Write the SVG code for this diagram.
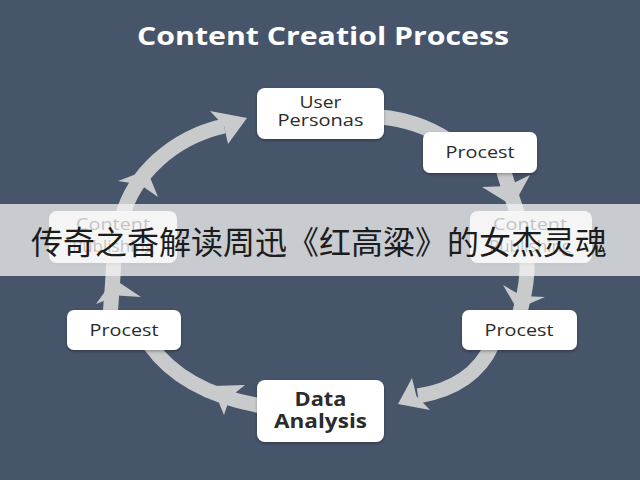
<svg xmlns="http://www.w3.org/2000/svg" width="640" height="480" viewBox="0 0 640 480">
  <defs>
    <filter id="sh" x="-10%" y="-10%" width="120%" height="130%">
      <feDropShadow dx="0" dy="1.5" stdDeviation="1.5" flood-color="#000" flood-opacity="0.3"/>
    </filter>
    <style>
      .band { fill: none; stroke: #c9cacc; stroke-width: 15; stroke-linecap: butt; }
      .head { fill: #c9cacc; }
      .box { fill: #ffffff; filter: url(#sh); }
      .lbl { font-family: "Open Sans", "Liberation Sans", sans-serif; font-size: 17px; fill: #2b2b2b; text-anchor: middle; }
      .bold { font-weight: bold; font-size: 19px; }
      .title { font-family: "Open Sans", "Liberation Sans", sans-serif; font-size: 25px; font-weight: bold; fill: #ffffff; text-anchor: middle; }
      .cjk { font-family: "Noto Sans CJK SC", "Noto Sans", sans-serif; font-size: 32px; fill: #1c1c1c; text-anchor: middle; }
    </style>
  </defs>
  <rect x="0" y="0" width="640" height="480" fill="#465569"/>
  <text class="title" x="323" y="45" textLength="372" lengthAdjust="spacingAndGlyphs">Content Creatiol Process</text>

  <g id="connectors">
    <path class="band" d="M380,117 C405,119 428,127 448,140"/>
    <path class="band" d="M502,165 C506,180 512,198 518,215"/>
    <polygon class="head" points="513,206 482,187 507.5,186 530,175"/>
    <path class="band" d="M527,258 C528,275 526,290 520,312"/>
    <polygon class="head" points="517,309 503,285 522,296 545,297"/>
    <path class="band" d="M492,345 C480,372 455,390 418,396"/>
    <polygon class="head" points="398,404 412,378 416.4,396 430,410"/>
    <path class="band" d="M262,406 C215,398 175,380 150,345"/>
    <polygon class="head" points="212,386 245,385 230,397 224,415"/>
    <path class="band" d="M110,318 C111,300 113,285 114,255"/>
    <polygon class="head" points="114,279 96,304 117.5,295.5 141,297"/>
    <path class="band" d="M122,218 C133,175 172,138 224,126"/>
    <polygon class="head" points="147,170 118,181 140,184.5 158,197"/>
    <polygon class="head" points="247,118 210,111 224,126 228,144"/>
  </g>

  <g id="node-user-personas">
    <rect class="box" x="257" y="88" width="127" height="51" rx="8"/>
    <text class="lbl" x="320.5" y="108" textLength="42" lengthAdjust="spacingAndGlyphs">User</text>
    <text class="lbl" x="320.5" y="126" textLength="86" lengthAdjust="spacingAndGlyphs">Personas</text>
  </g>
  <g id="node-procest-tr">
    <rect class="box" x="423" y="132" width="114" height="41" rx="7"/>
    <text class="lbl" x="480" y="158" textLength="69" lengthAdjust="spacingAndGlyphs">Procest</text>
  </g>
  <g id="node-content-right">
    <rect class="box" x="470" y="211" width="122" height="52" rx="8"/>
    <text class="lbl" x="530" y="230" textLength="74" lengthAdjust="spacingAndGlyphs">Content</text>
    <text class="lbl" x="530" y="252">Publishing</text>
  </g>
  <g id="node-procest-r">
    <rect class="box" x="462" y="310" width="115" height="40" rx="7"/>
    <text class="lbl" x="519" y="336" textLength="69" lengthAdjust="spacingAndGlyphs">Procest</text>
  </g>
  <g id="node-data-analysis">
    <rect class="box" x="257" y="380" width="127" height="62" rx="8"/>
    <text class="lbl bold" x="320.5" y="406" textLength="52" lengthAdjust="spacingAndGlyphs">Data</text>
    <text class="lbl bold" x="320.5" y="428" textLength="93" lengthAdjust="spacingAndGlyphs">Analysis</text>
  </g>
  <g id="node-procest-l">
    <rect class="box" x="67" y="310" width="114" height="40" rx="7"/>
    <text class="lbl" x="124" y="336" textLength="69" lengthAdjust="spacingAndGlyphs">Procest</text>
  </g>
  <g id="node-content-left">
    <rect class="box" x="49" y="211" width="128" height="52" rx="8"/>
    <text class="lbl" x="113" y="230" textLength="74" lengthAdjust="spacingAndGlyphs">Content</text>
    <text class="lbl" x="113" y="252">Publishing</text>
  </g>

  <rect x="0" y="204" width="640" height="72" fill="#f2f2f2" opacity="0.76"/>
  <text class="cjk" x="319" y="254">传奇之香解读周迅《红高粱》的女杰灵魂</text>
</svg>
